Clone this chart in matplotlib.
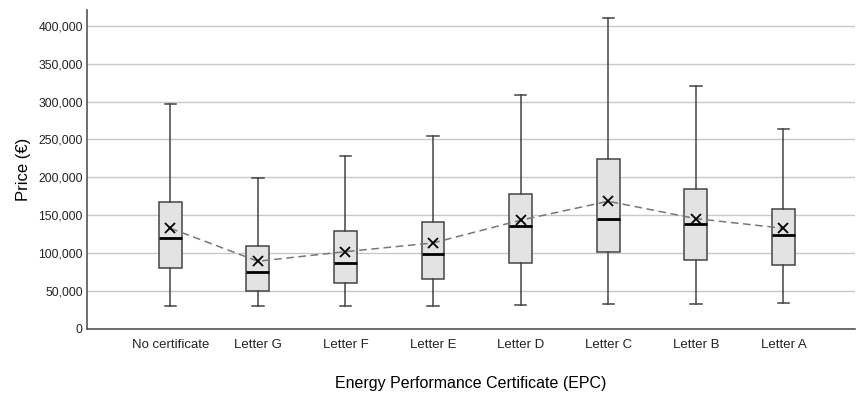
import matplotlib
matplotlib.use("Agg")
import matplotlib.pyplot as plt
from matplotlib.ticker import FuncFormatter

plt.rcParams['font.family'] = ['Liberation Sans', 'DejaVu Sans']

categories = ['No certificate', 'Letter G', 'Letter F', 'Letter E',
              'Letter D', 'Letter C', 'Letter B', 'Letter A']
whislo = [30400, 30400, 30800, 30400, 31700, 32600, 33000, 33900]
q1 = [80500, 50600, 60700, 65600, 87100, 101200, 90700, 84900]
med = [120100, 74800, 87500, 98600, 135600, 145200, 139000, 124500]
q3 = [167200, 110000, 129000, 141700, 178200, 224800, 185200, 158800]
whishi = [296600, 199000, 228800, 254800, 308900, 409700, 319900, 264400]
means = [132900, 89400, 102000, 113500, 143500, 168500, 145600, 132900]

stats = []
for i, c in enumerate(categories):
    stats.append(dict(label=c, whislo=whislo[i], q1=q1[i], med=med[i],
                      q3=q3[i], whishi=whishi[i], fliers=[]))

fig = plt.figure(figsize=(8.57, 3.94), dpi=100)
ax = fig.add_axes([0.1015, 0.165, 0.8965, 0.81])

pos = list(range(len(categories)))
ax.bxp(stats, positions=pos, widths=0.26, patch_artist=True, showfliers=False,
       boxprops=dict(facecolor='#e3e3e3', edgecolor='#444444', linewidth=1.1),
       medianprops=dict(color='black', linewidth=2),
       whiskerprops=dict(color='#444444', linewidth=1.1),
       capprops=dict(color='#444444', linewidth=1.1),
       capwidths=0.13, zorder=2)

ax.plot(pos, means, linestyle=(0, (5, 3)), color='#777777', linewidth=1.1, zorder=3)
ax.plot(pos, means, linestyle='none', marker='x', color='black',
        markersize=7, markeredgewidth=1.3, zorder=4)

ax.set_xlim(-0.95, 7.82)
ax.set_ylim(0, 421000)
ax.set_yticks(range(0, 400001, 50000))
ax.yaxis.set_major_formatter(FuncFormatter(lambda v, p: f'{int(v):,}'))
ax.set_xticks(pos)
ax.set_xticklabels(categories, fontsize=9.5)
ax.tick_params(axis='both', length=0, colors='#222222')
ax.tick_params(axis='y', labelsize=8.7, pad=3)
ax.tick_params(axis='x', pad=7)

ax.yaxis.grid(True, color='#c8c8c8', linewidth=1)
ax.set_axisbelow(True)
for s in ['top', 'right']:
    ax.spines[s].set_visible(False)
for s in ['left', 'bottom']:
    ax.spines[s].set_color('#555555')
    ax.spines[s].set_linewidth(1.2)

ax.set_ylabel('Price (€)', fontsize=12, labelpad=5)
ax.set_xlabel('Energy Performance Certificate (EPC)', fontsize=11.5, labelpad=18)

fig.savefig('out.png', dpi=100)
